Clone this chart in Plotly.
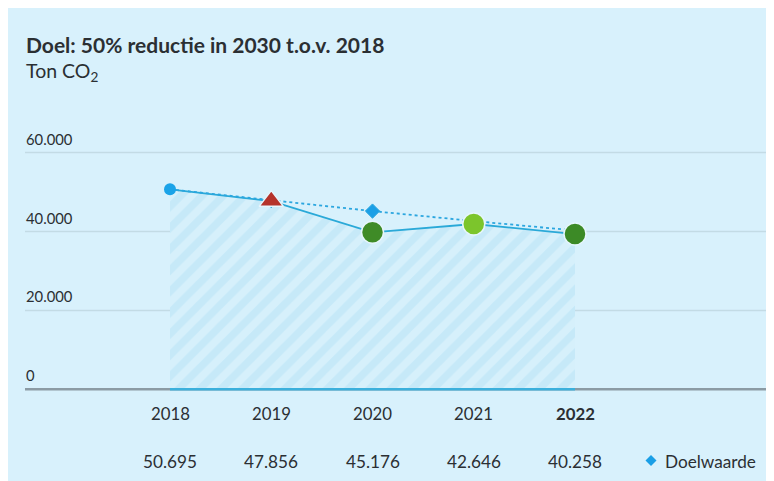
import plotly.graph_objects as go

# ---- data ----
years = [2018, 2019, 2020, 2021, 2022]
target = [50695, 47856, 45176, 42646, 40258]
actual = [50695, 47700, 39800, 41900, 39350]
target_labels = ["50.695", "47.856", "45.176", "42.646", "40.258"]
y_ticks = [0, 20000, 40000, 60000]
y_tick_labels = ["0", "20.000", "40.000", "60.000"]
title = "Doel: 50% reductie in 2030 t.o.v. 2018"
subtitle = "Ton CO<sub>2</sub>"
legend_label = "Doelwaarde"

W, H = 774, 481
OFF = 8  # page offset of the figure inside the window
FONT = "Lato"
BG = "#d8f1fc"
TXT = "#2b2f33"

def px(x):
    return (x - OFF) / W

def py(y):
    return 1 - (y - OFF) / H

# axis ranges: 2018 at window px170 (spacing ~101px), y=0 at px389.3, 60000 at px152.7
x_per_px = 1 / 101.25
x0_px = 170 - OFF
x_range = [2018 - x0_px * x_per_px, 2018 + (W - x0_px) * x_per_px]
v_per_px = 20000 / 78.9
y0_px = 389.3 - OFF
y_range = [-(H - y0_px) * v_per_px, y0_px * v_per_px]

fig = go.Figure()

# hatched area under actual values
fig.add_trace(go.Scatter(
    x=years, y=actual, mode="lines", fill="tozeroy",
    line=dict(color="#2aa9d8", width=1.8),
    fillcolor="#d6f0fb",
    fillpattern=dict(shape="/", fgcolor="#b6e2f6", bgcolor="#d6f0fb", size=15, solidity=0.5),
    hoverinfo="skip", showlegend=False,
))

# target dotted line with diamonds (first point hidden under the 2018 dot)
target_marker_sizes = [0, 11, 11, 11, 11]
fig.add_trace(go.Scatter(
    x=years, y=target, mode="lines+markers",
    line=dict(color="#2ba6df", width=1.8, dash="dot"),
    marker=dict(symbol="diamond", size=target_marker_sizes, color="#1a9fe6", opacity=1),
    showlegend=False,
))

# actual markers
marker_symbols = ["circle", "triangle-up", "circle", "circle", "circle"]
marker_colors = ["#1aa3e8", "#b5332b", "#3f8b27", "#7cc52c", "#3c8a26"]
marker_sizes = [12, 21, 22, 22, 22]
marker_lines = ["rgba(0,0,0,0)", "#e6f6fd", "#e6f6fd", "#e6f6fd", "#e6f6fd"]
fig.add_trace(go.Scatter(
    x=years, y=actual, mode="markers",
    marker=dict(symbol=marker_symbols, color=marker_colors, size=marker_sizes, opacity=1,
                line=dict(color=marker_lines, width=1.5)),
    showlegend=False,
))

shapes = []
# gridlines
for v in y_ticks[1:]:
    shapes.append(dict(type="line", xref="paper", yref="y", x0=px(25), x1=1, y0=v, y1=v,
                       line=dict(color="#c3dbe5", width=1.5), layer="below"))
# zero line: grey full, blue over data span
shapes.append(dict(type="line", xref="paper", yref="y", x0=px(25), x1=1, y0=0, y1=0,
                   line=dict(color="#8b9ba4", width=2.5), layer="above"))
shapes.append(dict(type="line", xref="x", yref="y", x0=years[0], x1=years[-1], y0=0, y1=0,
                   line=dict(color="#3cb0dc", width=2.5), layer="above"))
# legend diamond
cx, cy, r = px(651), py(460.5), 5.5
rx, ry = r / W, r / H
shapes.append(dict(type="path", xref="paper", yref="paper",
                   path="M %f %f L %f %f L %f %f L %f %f Z" % (cx, cy + ry, cx + rx, cy, cx, cy - ry, cx - rx, cy),
                   fillcolor="#1a9fe6", line=dict(width=0)))

annotations = []
annotations.append(dict(text="<b>" + title + "</b>", xref="paper", yref="paper",
                        x=px(24), y=py(45), xanchor="left", yanchor="middle", showarrow=False,
                        font=dict(family=FONT, size=21, color=TXT)))
annotations.append(dict(text=subtitle, xref="paper", yref="paper",
                        x=px(24), y=py(72), xanchor="left", yanchor="middle", showarrow=False,
                        font=dict(family=FONT, size=19.5, color=TXT)))
for v, lab in zip(y_ticks, y_tick_labels):
    annotations.append(dict(text=lab, xref="paper", yref="y", x=px(24), y=v, yshift=14,
                            xanchor="left", yanchor="middle", showarrow=False,
                            font=dict(family=FONT, size=14.8, color=TXT)))
for i, (yr, lab) in enumerate(zip(years, target_labels)):
    ytxt = "<b>%d</b>" % yr if i == len(years) - 1 else str(yr)
    annotations.append(dict(text=ytxt, xref="x", yref="paper", x=yr, y=py(413),
                            xanchor="center", yanchor="middle", showarrow=False,
                            font=dict(family=FONT, size=16.8, color=TXT)))
    annotations.append(dict(text=lab, xref="x", yref="paper", x=yr, y=py(461),
                            xanchor="center", yanchor="middle", showarrow=False,
                            font=dict(family=FONT, size=17.2, color=TXT)))
annotations.append(dict(text=legend_label, xref="paper", yref="paper", x=px(663), y=py(461),
                        xanchor="left", yanchor="middle", showarrow=False,
                        font=dict(family=FONT, size=17.2, color=TXT)))

fig.update_layout(
    width=W, height=H,
    margin=dict(l=0, r=0, t=0, b=0),
    paper_bgcolor=BG, plot_bgcolor="rgba(0,0,0,0)",
    xaxis=dict(range=x_range, visible=False, fixedrange=True),
    yaxis=dict(range=y_range, visible=False, fixedrange=True),
    shapes=shapes, annotations=annotations,
    showlegend=False,
)

fig.write_html("out.html", config={"displayModeBar": False})
